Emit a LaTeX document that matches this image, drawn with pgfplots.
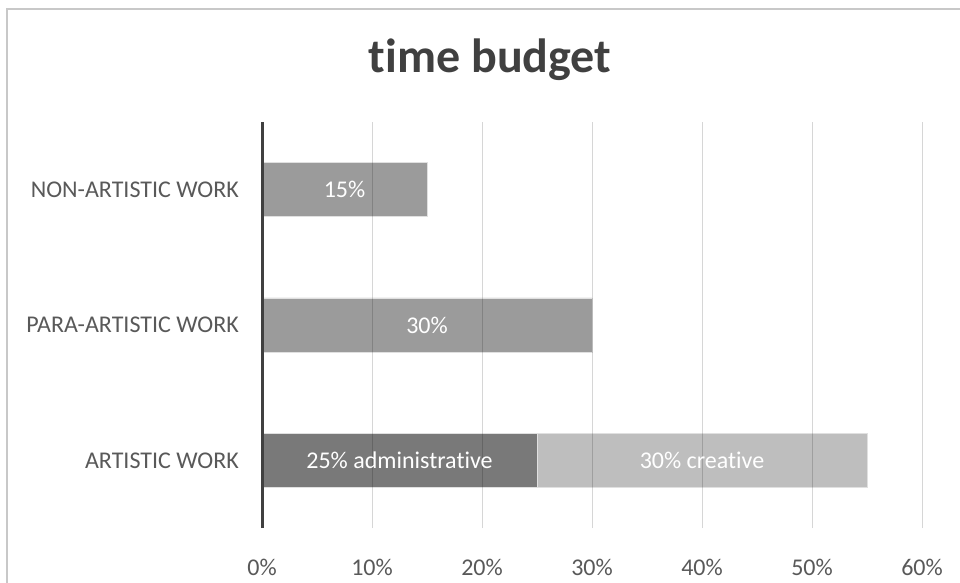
\documentclass[border=0pt]{standalone}
\usepackage{pgfplots}
\pgfplotsset{compat=1.18}
\usepackage{fontspec}
\setmainfont{Carlito}[Ligatures=NoCommon]
\definecolor{txt}{HTML}{595959}
\definecolor{ttl}{HTML}{404040}
\definecolor{medbar}{HTML}{9B9B9B}
\definecolor{darkbar}{HTML}{797979}
\definecolor{lightbar}{HTML}{BEBEBE}
\definecolor{frame}{HTML}{C8C8C8}
\begin{document}
\begin{tikzpicture}[x=1pt,y=1pt]
\useasboundingbox (0,0) rectangle (960,582);
\fill[white] (0,0) rectangle (960,582);
\draw[frame, line width=1.5pt] (7,-5) -- (7,573) -- (965,573);
\node[anchor=base, text=ttl, font=\fontsize{48}{54}\selectfont\bfseries] at (490,509) {time budget};
\begin{axis}[
  at={(262pt,54pt)}, anchor=south west,
  scale only axis, width=660pt, height=406pt,
  xmin=0, xmax=60, ymin=-0.5, ymax=2.5,
  xbar stacked, bar width=0.4,
  axis on top,
  axis x line*=bottom, axis y line*=left,
  x axis line style={draw=none},
  y axis line style={draw=ttl, line width=3pt},
  xtick={0,10,20,30,40,50,60},
  xticklabels={0\%,10\%,20\%,30\%,40\%,50\%,60\%},
  ytick={0,1,2},
  yticklabels={ARTISTIC WORK,PARA-ARTISTIC WORK,NON-ARTISTIC WORK},
  major tick length=0pt,
  xmajorgrids, ymajorgrids=false,
  grid style={black, opacity=0.16, line width=1pt},
  tick label style={text=txt, font=\fontsize{24}{28}\selectfont},
  xticklabel style={anchor=base, yshift=-47pt},
  yticklabel style={anchor=east, inner sep=0pt, xshift=-23pt},
  every axis plot/.append style={draw=white!88!black, line width=0.8pt},
  after end axis/.code={
    \node[text=white, font=\fontsize{24}{28}\selectfont] at (axis cs:7.5,2) {15\%};
    \node[text=white, font=\fontsize{24}{28}\selectfont] at (axis cs:15,1) {30\%};
    \node[text=white, font=\fontsize{24}{28}\selectfont] at (axis cs:12.5,0) {25\% administrative};
    \node[text=white, font=\fontsize{24}{28}\selectfont] at (axis cs:40,0) {30\% creative};
  },
]
\addplot[fill=darkbar] coordinates {(25,0) (0,1) (0,2)};
\addplot[fill=medbar] coordinates {(0,0) (30,1) (15,2)};
\addplot[fill=lightbar] coordinates {(30,0) (0,1) (0,2)};
\end{axis}
\end{tikzpicture}
\end{document}
